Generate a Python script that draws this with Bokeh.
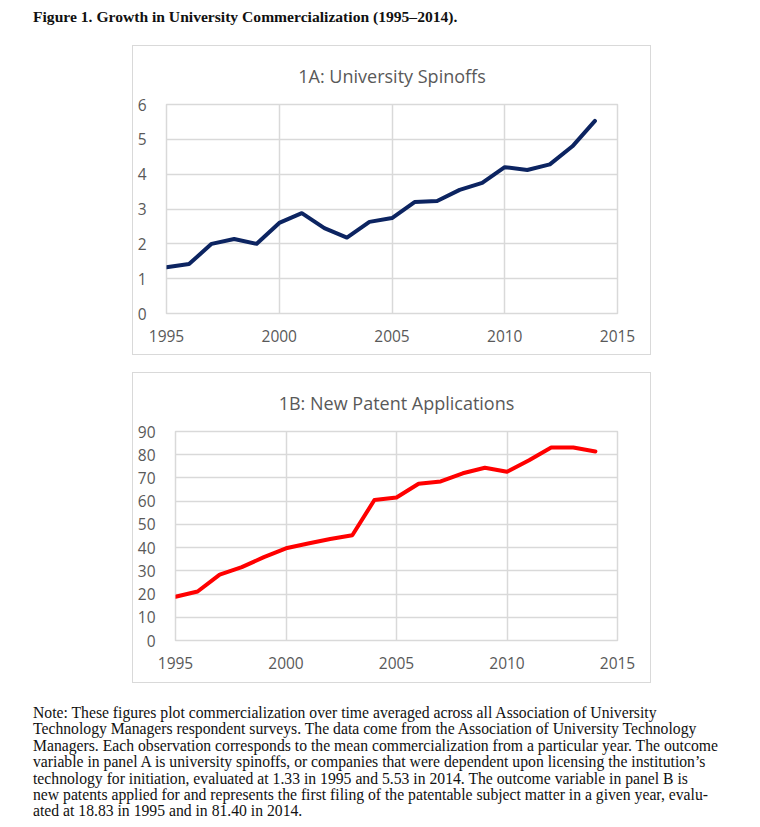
from bokeh.plotting import figure
from bokeh.models import FixedTicker, Div, Spacer, Range1d
from bokeh.layouts import column, row
from bokeh.embed import file_html
from bokeh.resources import INLINE

years = list(range(1995, 2015))
spinoffs = [1.33, 1.42, 2.00, 2.14, 2.00, 2.60, 2.88, 2.45, 2.18, 2.63,
            2.74, 3.20, 3.23, 3.55, 3.75, 4.20, 4.12, 4.28, 4.80, 5.53]
patents = [18.83, 21.1, 28.4, 31.6, 35.9, 39.7, 41.8, 43.7, 45.3, 60.5,
           61.6, 67.5, 68.5, 72.0, 74.4, 72.7, 77.6, 83.1, 83.1, 81.40]
x_ticks = [1995, 2000, 2005, 2010, 2015]
a_yticks = [0, 1, 2, 3, 4, 5, 6]
b_yticks = [0, 10, 20, 30, 40, 50, 60, 70, 80, 90]

title_a = "1A: University Spinoffs"
title_b = "1B: New Patent Applications"
fig_title = "Figure 1. Growth in University Commercialization (1995\u20132014)."
note_lines = [
    "Note: These figures plot commercialization over time averaged across all Association of University",
    "Technology Managers respondent surveys. The data come from the Association of University Technology",
    "Managers. Each observation corresponds to the mean commercialization from a particular year. The outcome",
    "variable in panel A is university spinoffs, or companies that were dependent upon licensing the institution\u2019s",
    "technology for initiation, evaluated at 1.33 in 1995 and 5.53 in 2014. The outcome variable in panel B is",
    "new patents applied for and represents the first filing of the patentable subject matter in a given year, evalu-",
    "ated at 18.83 in 1995 and in 81.40 in 2014.",
]

GRID = "#d9d9d9"
TXT = "#595959"
FONT = "Open Sans"


def panel(title, ys, yticks, ymax, color, height, left, bottom):
    p = figure(width=519, height=height, output_backend="svg", toolbar_location=None,
               x_range=Range1d(1995, 2015), y_range=Range1d(0, ymax),
               min_border_left=left, min_border_right=35, min_border_top=56,
               min_border_bottom=bottom, background_fill_color="white",
               border_fill_color="white",
               styles={"border": "1px solid #d9d9d9"})
    p.title.text = title
    p.title.align = "center"
    p.title.vertical_align = "middle"
    p.title.text_font = FONT
    p.title.text_font_size = "18px"
    p.title.text_font_style = "normal"
    p.title.text_color = TXT
    p.title.standoff = 32
    p.line(years, ys, line_color=color, line_width=4, line_join="round", line_cap="round")
    p.xaxis.ticker = FixedTicker(ticks=x_ticks)
    p.yaxis.ticker = FixedTicker(ticks=yticks)
    for ax in (p.xaxis, p.yaxis):
        ax.axis_line_color = None
        ax.major_tick_line_color = None
        ax.minor_tick_line_color = None
        ax.major_label_text_font = FONT
        ax.major_label_text_font_size = "15.5px"
        ax.major_label_text_color = TXT
    p.xaxis.major_label_standoff = 10
    p.yaxis.major_label_standoff = 14
    p.xgrid.ticker = FixedTicker(ticks=x_ticks)
    p.ygrid.ticker = FixedTicker(ticks=yticks)
    p.xgrid.grid_line_color = GRID
    p.ygrid.grid_line_color = GRID
    p.xgrid.grid_line_width = 1.5
    p.ygrid.grid_line_width = 1.5
    p.outline_line_color = GRID
    p.outline_line_width = 1.5
    return p


pa = panel(title_a, spinoffs, a_yticks, 6, "#0c2461", 310, 33, 43)
pb = panel(title_b, patents, b_yticks, 90, "#ff0000", 311, 42, 44)

head = Div(text=f'<div style="font-family:\'Liberation Serif\';font-weight:bold;font-size:15.6px;'
                f'color:#111;padding-left:28px;padding-top:1px;white-space:nowrap;">{fig_title}</div>',
           width=740, height=35)
note = Div(text='<div style="font-family:\'Liberation Serif\';font-size:15.7px;line-height:16.4px;'
                'color:#111;padding-left:28px;padding-top:17px;white-space:nowrap;">'
                + "<br>".join(note_lines) + '</div>',
           width=744, height=130)

layout = column(head,
                row(Spacer(width=132, height=10), pa),
                Spacer(width=10, height=17),
                row(Spacer(width=132, height=10), pb),
                note, spacing=0)

open("out.html", "w").write(file_html(layout, INLINE))
